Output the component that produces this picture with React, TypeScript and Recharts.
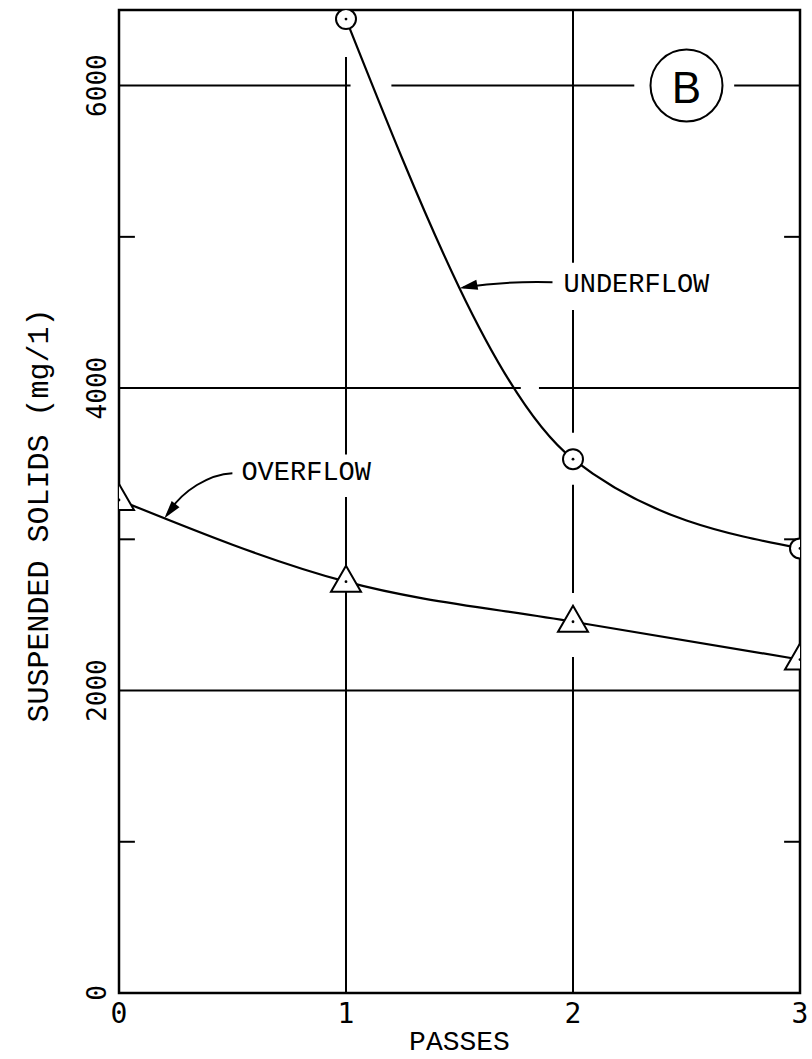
import { LineChart, Line, XAxis, YAxis, ReferenceLine, ReferenceArea, ReferenceDot } from 'recharts';

const passes = [0, 1, 2, 3];
const underflow = [null, 6440, 3530, 2940];
const overflow = [3260, 2720, 2455, 2205];

const xTicks = [0, 1, 2, 3];
const yTicks = [0, 2000, 4000, 6000];
const minorTicks = [1000, 3000, 5000];

const data = passes.map((p, i) => ({ pass: p, underflow: underflow[i], overflow: overflow[i] }));

const mono = '"Liberation Mono", "DejaVu Sans Mono", monospace';
const digits = '"DejaVu Sans Mono", monospace';

const CircleDot = (props: any) => {
  const { cx, cy, value } = props;
  if (cx == null || cy == null || value == null) return null;
  return (
    <g>
      <circle cx={cx} cy={cy} r={10} fill="#fff" stroke="#000" strokeWidth={2} />
      <circle cx={cx} cy={cy} r={1.4} fill="#000" />
    </g>
  );
};

const TriangleDot = (props: any) => {
  const { cx, cy, value } = props;
  if (cx == null || cy == null || value == null) return null;
  return (
    <g>
      <polygon points={`${cx},${cy - 16} ${cx - 15},${cy + 10} ${cx + 15},${cy + 10}`} fill="#fff" stroke="#000" strokeWidth={2} />
      <circle cx={cx} cy={cy} r={1.4} fill="#000" />
    </g>
  );
};

// arrow tip sits on the underflow curve
const UnderflowNote = ({ cx, cy }: any) => (
  <g>
    <path d={`M${cx + 93},${cy - 6} C${cx + 60},${cy - 7} ${cx + 25},${cy - 4} ${cx + 4},${cy - 1}`} fill="none" stroke="#000" strokeWidth={2} />
    <polygon points={`${cx},${cy} ${cx + 18.7},${cy + 1.5} ${cx + 16.8},${cy - 8.5}`} fill="#000" />
    <text x={cx + 104} y={cy - 3} fontFamily={mono} fontSize={27} dominantBaseline="central" fill="#000">UNDERFLOW</text>
  </g>
);

const OverflowNote = ({ cx, cy }: any) => (
  <g>
    <path d={`M${cx + 68},${cy - 45} C${cx + 45},${cy - 44} ${cx + 18},${cy - 28} ${cx + 3},${cy - 4}`} fill="none" stroke="#000" strokeWidth={2} />
    <polygon points={`${cx},${cy} ${cx + 15.1},${cy - 10.9} ${cx + 7.3},${cy - 17.1}`} fill="#000" />
    <text x={cx + 77} y={cy - 45} fontFamily={mono} fontSize={27} dominantBaseline="central" fill="#000">OVERFLOW</text>
  </g>
);

const PanelMark = ({ cx, cy }: any) => (
  <g>
    <circle cx={cx} cy={cy} r={36} fill="#fff" stroke="#000" strokeWidth={2} />
    <text x={cx} y={cy + 2} textAnchor="middle" dominantBaseline="central" fontFamily='"Liberation Sans", sans-serif' fontSize={44} fill="#000">B</text>
  </g>
);

export default function App() {
  return (
    <div style={{ position: 'absolute', left: 0, top: 0, background: '#fff' }}>
      <LineChart width={812} height={1059} data={data} margin={{ top: 10, right: 12, bottom: 26, left: 39 }}>
        <XAxis
          dataKey="pass"
          type="number"
          domain={[0, 3]}
          ticks={xTicks}
          allowDataOverflow
          axisLine={false}
          tickLine={false}
          height={40}
          label={{
            content: ({ viewBox }: any) => (
              <text x={viewBox.x + viewBox.width / 2} y={1042} textAnchor="middle" dominantBaseline="central" fontFamily={mono} fontSize={28} fill="#000">
                PASSES
              </text>
            ),
          }}
          tick={({ x, y, payload }: any) => (
            <text x={x} y={y + 12} textAnchor="middle" dominantBaseline="central" fontFamily={digits} fontSize={28} fill="#000">{payload.value}</text>
          )}
        />
        <YAxis
          type="number"
          domain={[0, 6500]}
          ticks={yTicks}
          allowDataOverflow
          axisLine={false}
          tickLine={false}
          width={80}
          label={{
            content: ({ viewBox }: any) => (
              <text transform={`translate(40, ${viewBox.y + viewBox.height / 2 + 14}) rotate(-90)`} textAnchor="middle" dominantBaseline="central" fontFamily={mono} fontSize={30} fill="#000">
                SUSPENDED SOLIDS (mg/1)
              </text>
            ),
          }}
          tick={({ x, y, payload }: any) => (
            <text transform={`translate(${x - 14}, ${y}) rotate(-90)`} textAnchor="middle" dominantBaseline="central" fontFamily={digits} fontSize={26} fill="#000">{payload.value}</text>
          )}
        />

        <ReferenceLine segment={[{ x: 0, y: 2000 }, { x: 3, y: 2000 }]} stroke="#000" strokeWidth={2} />
        <ReferenceLine segment={[{ x: 0, y: 4000 }, { x: 1.77, y: 4000 }]} stroke="#000" strokeWidth={2} />
        <ReferenceLine segment={[{ x: 1.85, y: 4000 }, { x: 3, y: 4000 }]} stroke="#000" strokeWidth={2} />
        <ReferenceLine segment={[{ x: 0, y: 6000 }, { x: 1.02, y: 6000 }]} stroke="#000" strokeWidth={2} />
        <ReferenceLine segment={[{ x: 1.2, y: 6000 }, { x: 2.27, y: 6000 }]} stroke="#000" strokeWidth={2} />
        <ReferenceLine segment={[{ x: 2.71, y: 6000 }, { x: 3, y: 6000 }]} stroke="#000" strokeWidth={2} />

        <ReferenceLine segment={[{ x: 1, y: 0 }, { x: 1, y: 3280 }]} stroke="#000" strokeWidth={2} />
        <ReferenceLine segment={[{ x: 1, y: 3560 }, { x: 1, y: 6190 }]} stroke="#000" strokeWidth={2} />
        <ReferenceLine segment={[{ x: 2, y: 0 }, { x: 2, y: 2222 }]} stroke="#000" strokeWidth={2} />
        <ReferenceLine segment={[{ x: 2, y: 2645 }, { x: 2, y: 3360 }]} stroke="#000" strokeWidth={2} />
        <ReferenceLine segment={[{ x: 2, y: 3704 }, { x: 2, y: 4517 }]} stroke="#000" strokeWidth={2} />
        <ReferenceLine segment={[{ x: 2, y: 4828 }, { x: 2, y: 6500 }]} stroke="#000" strokeWidth={2} />

        {minorTicks.map((v) => (
          <ReferenceLine key={`l${v}`} segment={[{ x: 0, y: v }, { x: 0.07, y: v }]} stroke="#000" strokeWidth={2} />
        ))}
        {minorTicks.map((v) => (
          <ReferenceLine key={`r${v}`} segment={[{ x: 2.93, y: v }, { x: 3, y: v }]} stroke="#000" strokeWidth={2} />
        ))}

        <ReferenceArea x1={0} x2={3} y1={0} y2={6500} fill="none" fillOpacity={0} stroke="#000" strokeWidth={2.5} />

        <ReferenceDot x={2.5} y={6000} r={0} shape={PanelMark} />
        <ReferenceDot x={1.5} y={4660} r={0} shape={UnderflowNote} />
        <ReferenceDot x={0.2} y={3140} r={0} shape={OverflowNote} />

        <Line type="monotone" dataKey="overflow" stroke="#000" strokeWidth={2.2} dot={<TriangleDot />} isAnimationActive={false} />
        <Line type="monotone" dataKey="underflow" stroke="#000" strokeWidth={2.2} dot={<CircleDot />} connectNulls={false} isAnimationActive={false} />
      </LineChart>
    </div>
  );
}
